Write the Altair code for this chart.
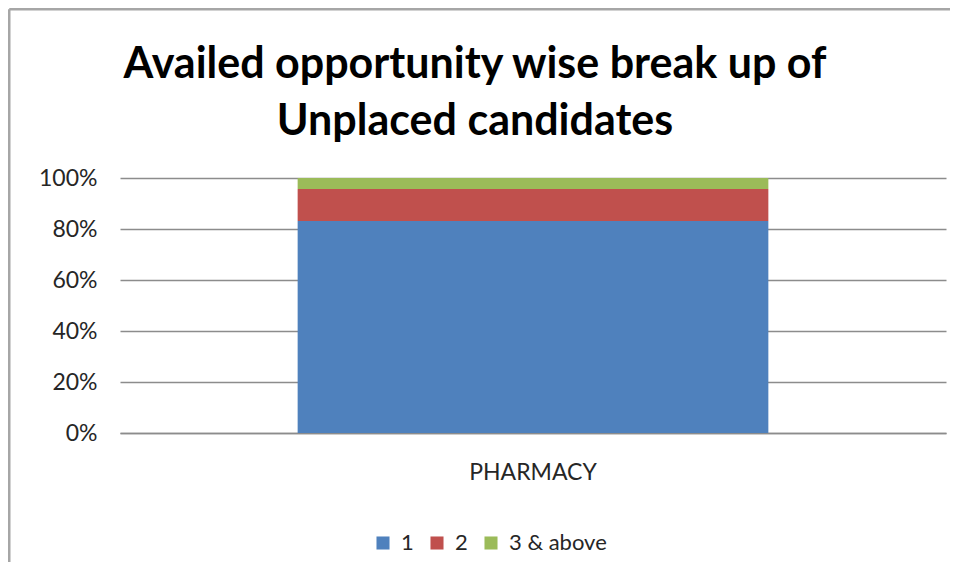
import altair as alt
import pandas as pd

categories = ["PHARMACY"]
series = ["1", "2", "3 & above"]
values = [83.1, 12.6, 4.3]
colors = ["#4F81BD", "#C0504D", "#9BBB59"]
title_lines = ["Availed opportunity wise break up of", "Unplaced candidates"]

df = pd.DataFrame({
    "category": [categories[0]] * len(series),
    "series": series,
    "value": values,
    "order": list(range(len(series))),
})

FONT = "Lato"

bars = alt.Chart(df).mark_bar().encode(
    x=alt.X("category:N", title=None,
            scale=alt.Scale(paddingInner=0.274, paddingOuter=0.274),
            axis=alt.Axis(labelAngle=0, ticks=False, labelPadding=28,
                          labelFontSize=23, labelFont=FONT, labelColor="#262626",
                          domainColor="#8c8c8c", domainWidth=1.5)),
    y=alt.Y("value:Q", stack="normalize", title=None,
            axis=alt.Axis(format="%", values=[0, 0.2, 0.4, 0.6, 0.8, 1.0],
                          ticks=False, domain=False, labelPadding=23,
                          labelFontSize=23, labelFont=FONT, labelColor="#262626",
                          gridColor="#8c8c8c", gridWidth=1.5)),
    color=alt.Color("series:N", title=None,
                    scale=alt.Scale(domain=series, range=colors),
                    legend=alt.Legend(orient="none", direction="horizontal",
                                      legendX=252, legendY=354,
                                      symbolType="square", symbolSize=170,
                                      symbolStrokeWidth=0,
                                      labelFontSize=22, labelFont=FONT,
                                      labelColor="#262626", columnPadding=12,
                                      labelOffset=7)),
    order=alt.Order("order:Q"),
)

frame_data = alt.Data(values=[{"k": 1}])
left_border = alt.Chart(frame_data).mark_rule(color="#a6a6a6", strokeWidth=2.5).encode(
    x=alt.value(-110.75), y=alt.value(-168.75), y2=alt.value(384))
top_border = alt.Chart(frame_data).mark_rule(color="#a6a6a6", strokeWidth=2.5).encode(
    x=alt.value(-110.75), x2=alt.value(830), y=alt.value(-168.75))

chart = alt.layer(left_border, top_border, bars).properties(
    width=826, height=255, padding=0,
    title=alt.Title(title_lines, font=FONT, fontSize=43, fontWeight="bold",
                    color="#000000", anchor="middle", dx=-58, offset=-136,
                    lineHeight=57),
).configure_view(stroke=None)

chart.save("out.html", embed_options={"renderer": "svg", "actions": False})
